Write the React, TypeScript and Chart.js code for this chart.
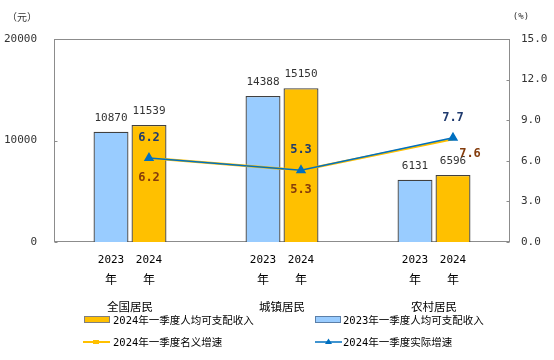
import React, { useEffect, useRef } from 'react';
import { Chart, registerables } from 'chart.js';

Chart.register(...registerables);

const categories = ['全国居民', '城镇居民', '农村居民'];
const yearLabels = ['2023', '2024'];
const yearSuffix = '年';
const income2023 = [10870, 14388, 6131];
const income2024 = [11539, 15150, 6596];
const nominalGrowth = [6.2, 5.3, 7.6];
const realGrowth = [6.2, 5.3, 7.7];
const seriesNames = [
  '2023年一季度人均可支配收入',
  '2024年一季度人均可支配收入',
  '2024年一季度名义增速',
  '2024年一季度实际增速',
];
const leftUnit = '（元）';
const rightUnit = '(%)';
const leftMax = 20000;
const leftStep = 10000;
const rightMax = 15;
const rightStep = 3;
// where the nominal-growth label sits relative to its point
const nominalLabelAnchor = ['below', 'below', 'right'];

const BLUE_BAR = '#99CCFF';
const YELLOW = '#FFC000';
const BLUE_LINE = '#0070C0';
const BAR_BORDER = '#404040';
const AXIS = '#8c8c8c';
const MONO = "'DejaVu Sans Mono', 'Noto Sans CJK SC', monospace";
const CJK = "'Noto Sans CJK SC', 'DejaVu Sans', sans-serif";

const overlay = {
  id: 'overlay',
  afterDatasetsUpdate(chart: any) {
    // growth lines sit on the centre of the 2024 bar of each group
    const barMeta = chart.getDatasetMeta(1);
    [2, 3].forEach((di) => {
      const meta = chart.getDatasetMeta(di);
      meta.data.forEach((pt: any, i: number) => {
        const bar = barMeta.data[i];
        if (bar) pt.x = bar.x;
      });
    });
  },
  beforeDatasetsDraw(chart: any) {
    const { ctx, chartArea: a } = chart;
    ctx.save();
    ctx.strokeStyle = AXIS;
    ctx.lineWidth = 1;
    const L = Math.round(a.left) + 0.5;
    const T = Math.round(a.top) + 0.5;
    const R = Math.round(a.right) - 0.5;
    const B = Math.round(a.bottom) - 0.5;
    ctx.strokeRect(L, T, R - L, B - T);
    const y = chart.scales.y;
    const y2 = chart.scales.y2;
    ctx.beginPath();
    y.ticks.forEach((t: any) => {
      const py = Math.round(y.getPixelForValue(t.value)) + 0.5;
      ctx.moveTo(L, py);
      ctx.lineTo(L + 3, py);
    });
    y2.ticks.forEach((t: any) => {
      const py = Math.round(y2.getPixelForValue(t.value)) + 0.5;
      ctx.moveTo(R - 3, py);
      ctx.lineTo(R, py);
    });
    ctx.stroke();
    ctx.restore();
  },
  afterDatasetsDraw(chart: any) {
    const { ctx } = chart;
    ctx.save();
    ctx.textAlign = 'center';
    ctx.textBaseline = 'middle';
    // bar values
    ctx.font = `11px ${MONO}`;
    ctx.fillStyle = '#333333';
    [0, 1].forEach((di) => {
      const meta = chart.getDatasetMeta(di);
      const vals = chart.data.datasets[di].data as number[];
      meta.data.forEach((el: any, i: number) => {
        ctx.fillText(String(vals[i]), el.x, el.y - 14);
      });
    });
    // line labels
    ctx.font = `bold 12px ${MONO}`;
    const realMeta = chart.getDatasetMeta(3);
    ctx.fillStyle = '#1F3A6E';
    realMeta.data.forEach((el: any, i: number) => {
      ctx.fillText(realGrowth[i].toFixed(1), el.x, el.y - 20);
    });
    const nomMeta = chart.getDatasetMeta(2);
    ctx.fillStyle = '#843C0C';
    nomMeta.data.forEach((el: any, i: number) => {
      if (nominalLabelAnchor[i] === 'right') {
        ctx.fillText(nominalGrowth[i].toFixed(1), el.x + 17, el.y + 15);
      } else {
        ctx.fillText(nominalGrowth[i].toFixed(1), el.x, el.y + 20);
      }
    });
    ctx.restore();
  },
  afterDraw(chart: any) {
    const { ctx, chartArea: a } = chart;
    ctx.save();
    ctx.textBaseline = 'middle';
    ctx.textAlign = 'center';
    // year labels under each bar
    [0, 1].forEach((di) => {
      const meta = chart.getDatasetMeta(di);
      meta.data.forEach((el: any) => {
        ctx.fillStyle = '#000000';
        ctx.font = `11px ${MONO}`;
        ctx.fillText(yearLabels[di], el.x, a.bottom + 18);
        ctx.font = `12px ${CJK}`;
        ctx.fillText(yearSuffix, el.x, a.bottom + 37);
      });
    });
    // group labels
    const x = chart.scales.x;
    ctx.font = `11.5px ${CJK}`;
    ctx.fillStyle = '#000000';
    categories.forEach((c, i) => {
      ctx.fillText(c, x.getPixelForValue(i), a.bottom + 65);
    });
    // units
    ctx.font = `10px ${CJK}`;
    ctx.fillStyle = '#333333';
    ctx.fillText(leftUnit, 22, 17);
    ctx.font = `9px ${MONO}`;
    ctx.fillText(rightUnit, 521, 17);

    // legend
    ctx.textAlign = 'left';
    ctx.font = `10.5px ${MONO}`;
    const row1 = 320;
    const row2 = 342;
    const colA = 84;
    const colB = 315;
    ctx.fillStyle = YELLOW;
    ctx.fillRect(colA, row1 - 3, 25, 6);
    ctx.strokeStyle = '#7f7f7f';
    ctx.lineWidth = 1;
    ctx.strokeRect(colA + 0.5, row1 - 3.5, 25, 6);
    ctx.fillStyle = '#000000';
    ctx.fillText(seriesNames[1], colA + 29, row1 + 1);
    ctx.fillStyle = BLUE_BAR;
    ctx.fillRect(colB, row1 - 3, 25, 6);
    ctx.strokeStyle = '#5b7fa8';
    ctx.strokeRect(colB + 0.5, row1 - 3.5, 25, 6);
    ctx.fillStyle = '#000000';
    ctx.fillText(seriesNames[0], colB + 28, row1 + 1);
    ctx.strokeStyle = YELLOW;
    ctx.lineWidth = 2;
    ctx.beginPath();
    ctx.moveTo(colA - 1, row2);
    ctx.lineTo(colA + 26, row2);
    ctx.stroke();
    ctx.fillStyle = YELLOW;
    ctx.fillRect(colA + 9, row2 - 2, 6, 4);
    ctx.fillStyle = '#000000';
    ctx.fillText(seriesNames[2], colA + 29, row2 + 1);
    ctx.strokeStyle = BLUE_LINE;
    ctx.lineWidth = 1.5;
    ctx.beginPath();
    ctx.moveTo(colB, row2);
    ctx.lineTo(colB + 27, row2);
    ctx.stroke();
    ctx.fillStyle = BLUE_LINE;
    ctx.beginPath();
    ctx.moveTo(colB + 13.5, row2 - 3.5);
    ctx.lineTo(colB + 17, row2 + 2);
    ctx.lineTo(colB + 10, row2 + 2);
    ctx.closePath();
    ctx.fill();
    ctx.fillStyle = '#000000';
    ctx.fillText(seriesNames[3], colB + 28, row2 + 1);
    ctx.restore();
  },
};

export default function App() {
  const ref = useRef<HTMLCanvasElement | null>(null);
  useEffect(() => {
    if (!ref.current) return;
    const chart = new Chart(ref.current, {
      type: 'bar',
      data: {
        labels: categories,
        datasets: [
          {
            type: 'bar',
            label: seriesNames[0],
            data: income2023,
            backgroundColor: BLUE_BAR,
            borderColor: BAR_BORDER,
            borderWidth: 1.3,
            yAxisID: 'y',
            order: 2,
            categoryPercentage: 0.5,
            barPercentage: 0.92,
          },
          {
            type: 'bar',
            label: seriesNames[1],
            data: income2024,
            backgroundColor: YELLOW,
            borderColor: BAR_BORDER,
            borderWidth: 1.3,
            yAxisID: 'y',
            order: 3,
            categoryPercentage: 0.5,
            barPercentage: 0.92,
          },
          {
            type: 'line',
            label: seriesNames[2],
            data: nominalGrowth,
            borderColor: YELLOW,
            backgroundColor: YELLOW,
            borderWidth: 2.5,
            pointRadius: 0,
            tension: 0,
            yAxisID: 'y2',
            order: 1,
          },
          {
            type: 'line',
            label: seriesNames[3],
            data: realGrowth,
            borderColor: BLUE_LINE,
            backgroundColor: BLUE_LINE,
            borderWidth: 1.5,
            pointStyle: 'triangle',
            pointRadius: 4.5,
            tension: 0,
            yAxisID: 'y2',
            order: 0,
          },
        ] as any,
      },
      options: {
        animation: false,
        responsive: false,
        maintainAspectRatio: false,
        layout: { padding: { top: 39, bottom: 118, left: 0, right: 0 } },
        plugins: { legend: { display: false }, tooltip: { enabled: false } },
        scales: {
          x: { type: 'category', display: false, offset: true, grid: { display: false } },
          y: {
            position: 'left',
            min: 0,
            max: leftMax,
            ticks: {
              stepSize: leftStep,
              padding: 17,
              color: '#333333',
              font: { family: MONO, size: 11 },
              callback: (v: any) => String(v),
            },
            grid: { display: false, drawTicks: false },
            border: { display: false },
            afterFit: (s: any) => { s.width = 54; },
          },
          y2: {
            position: 'right',
            min: 0,
            max: rightMax,
            ticks: {
              stepSize: rightStep,
              padding: 11,
              color: '#333333',
              font: { family: MONO, size: 11 },
              callback: (v: any) => Number(v).toFixed(1),
            },
            grid: { display: false, drawTicks: false },
            border: { display: false },
            afterFit: (s: any) => { s.width = 44; },
          },
        } as any,
      },
      plugins: [overlay],
    });
    return () => chart.destroy();
  }, []);
  return (
    <div style={{ position: 'absolute', left: 0, top: 0, width: 554, height: 360, background: '#fff' }}>
      <canvas ref={ref} width={554} height={360} style={{ width: 554, height: 360, display: 'block' }} />
    </div>
  );
}
